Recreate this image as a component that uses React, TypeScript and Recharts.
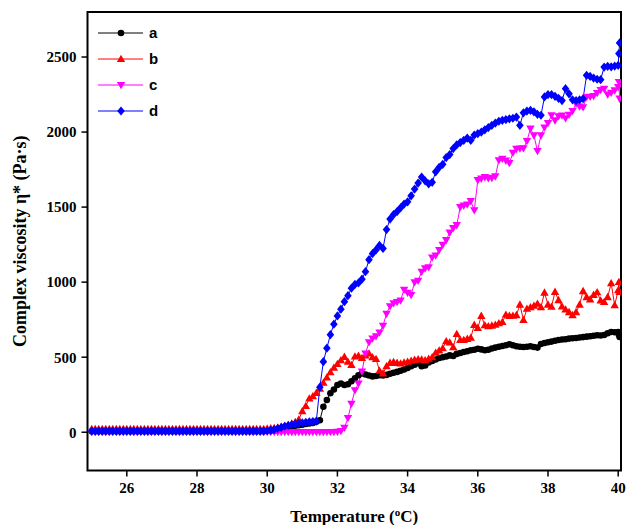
import React from 'react';
import { LineChart, Line, XAxis, YAxis, Legend, ReferenceArea, Label } from 'recharts';

const temps = [
  25.0, 25.1, 25.2, 25.3, 25.4, 25.5, 25.6, 25.7, 25.8, 25.9,
  26.0, 26.1, 26.2, 26.3, 26.4, 26.5, 26.6, 26.7, 26.8, 26.9,
  27.0, 27.1, 27.2, 27.3, 27.4, 27.5, 27.6, 27.7, 27.8, 27.9,
  28.0, 28.1, 28.2, 28.3, 28.4, 28.5, 28.6, 28.7, 28.8, 28.9,
  29.0, 29.1, 29.2, 29.3, 29.4, 29.5, 29.6, 29.7, 29.8, 29.9,
  30.0, 30.1, 30.2, 30.3, 30.4, 30.5, 30.6, 30.7, 30.8, 30.9,
  31.0, 31.1, 31.2, 31.3, 31.4, 31.5, 31.6, 31.7, 31.8, 31.9,
  32.0, 32.1, 32.2, 32.3, 32.4, 32.5, 32.6, 32.7, 32.8, 32.9,
  33.0, 33.1, 33.2, 33.3, 33.4, 33.5, 33.6, 33.7, 33.8, 33.9,
  34.0, 34.1, 34.2, 34.3, 34.4, 34.5, 34.6, 34.7, 34.8, 34.9,
  35.0, 35.1, 35.2, 35.3, 35.4, 35.5, 35.6, 35.7, 35.8, 35.9,
  36.0, 36.1, 36.2, 36.3, 36.4, 36.5, 36.6, 36.7, 36.8, 36.9,
  37.0, 37.1, 37.2, 37.3, 37.4, 37.5, 37.6, 37.7, 37.8, 37.9,
  38.0, 38.1, 38.2, 38.3, 38.4, 38.5, 38.6, 38.7, 38.8, 38.9,
  39.0, 39.1, 39.2, 39.3, 39.4, 39.5, 39.6, 39.7, 39.8, 39.9,
  40.0, 40.02, 40.04,
];

const seriesA = [
  6, 6, 6, 6, 6, 6, 6, 6, 6, 6,
  6, 6, 6, 6, 6, 6, 6, 6, 6, 6,
  6, 6, 6, 6, 6, 6, 6, 6, 6, 6,
  6, 6, 6, 6, 6, 6, 6, 6, 6, 6,
  6, 6, 6, 6, 6, 6, 6, 7, 7, 7,
  8, 10, 12, 15, 20, 28, 35, 40, 44, 47,
  50, 55, 58, 62, 70, 80, 170, 215, 260, 285,
  315, 325, 315, 320, 340, 360, 380, 392, 385, 378,
  372, 375, 380, 378, 382, 390, 396, 402, 410, 418,
  428, 440, 450, 462, 440, 445, 465, 475, 485, 495,
  500, 505, 512, 508, 522, 528, 535, 540, 546, 550,
  556, 552, 546, 550, 558, 564, 570, 575, 580, 586,
  580, 573, 570, 568, 570, 573, 568, 564, 588, 595,
  600, 604, 610, 615, 618, 620, 624, 626, 628, 631,
  634, 637, 640, 643, 646, 645, 648, 660, 668, 666,
  668, 650, 635,
];

const seriesB = [
  22, 22, 22, 22, 22, 22, 22, 22, 22, 22,
  22, 22, 22, 22, 22, 22, 22, 22, 22, 22,
  22, 22, 22, 22, 22, 22, 22, 22, 22, 22,
  22, 22, 22, 22, 22, 22, 22, 22, 22, 22,
  22, 22, 22, 22, 22, 22, 22, 22, 22, 22,
  24, 26, 28, 32, 36, 42, 50, 58, 68, 85,
  140, 175, 225, 240, 262, 290, 330, 365, 400, 430,
  455, 480, 502, 470, 448, 505, 510, 495, 512, 524,
  500, 488, 410, 392, 440, 462, 468, 462, 458, 465,
  470, 476, 482, 486, 484, 480, 490, 500, 530, 545,
  560, 606, 598, 566, 655, 615, 614, 622, 630, 715,
  695, 775, 712, 706, 710, 716, 726, 734, 782, 775,
  776, 780, 850, 748, 822, 832, 842, 856, 832, 930,
  850, 836, 935, 880, 838, 818, 800, 780, 800, 850,
  940, 900, 885, 915, 932, 878, 868, 900, 992, 846,
  946, 1001, 935,
];

const seriesC = [
  2, 2, 2, 2, 2, 2, 2, 2, 2, 2,
  2, 2, 2, 2, 2, 2, 2, 2, 2, 2,
  2, 2, 2, 2, 2, 2, 2, 2, 2, 2,
  2, 2, 2, 2, 2, 2, 2, 2, 2, 2,
  2, 2, 2, 2, 2, 2, 2, 2, 2, 2,
  2, 2, 2, 2, 2, 2, 2, 2, 2, 2,
  2, 2, 2, 2, 2, 2, 2, 2, 2, 2,
  3, 8, 30, 95, 190, 280, 325, 405, 525, 600,
  625, 640, 665, 710, 790, 840, 860, 868, 878, 950,
  930, 915, 1000, 1010, 1070, 1092, 1100, 1165, 1178, 1215,
  1250, 1280, 1330, 1360, 1380, 1500, 1510, 1518, 1540, 1479,
  1680, 1690, 1700, 1692, 1695, 1705, 1812, 1822, 1810, 1794,
  1862, 1888, 1890, 1892, 1940, 2023, 1978, 1874, 1978, 2030,
  2060, 2112, 2078, 2105, 2110, 2092, 2115, 2140, 2189, 2170,
  2165, 2234, 2236, 2240, 2260, 2280, 2289, 2250, 2262, 2278,
  2300, 2334, 2223,
];

const seriesD = [
  8, 8, 8, 8, 8, 8, 8, 8, 8, 8,
  8, 8, 8, 8, 8, 8, 8, 8, 8, 8,
  8, 8, 8, 8, 8, 8, 8, 8, 8, 8,
  8, 8, 8, 8, 8, 8, 8, 8, 8, 8,
  8, 8, 8, 8, 8, 8, 8, 8, 8, 8,
  10, 12, 18, 25, 32, 40, 45, 50, 55, 60,
  63, 66, 69, 71, 74, 300, 470, 560, 650, 720,
  775, 820, 870, 910, 960, 985, 995, 1020, 1070, 1150,
  1190, 1215, 1245, 1225, 1350, 1420, 1450, 1470, 1495, 1520,
  1535, 1575, 1620, 1660, 1700, 1675, 1655, 1665, 1735, 1765,
  1785, 1830, 1850, 1890, 1915, 1930, 1945, 1960, 1945, 1980,
  1990, 2000, 2015, 2030, 2045, 2060, 2072, 2078, 2083, 2088,
  2092, 2100, 2045, 2128, 2140, 2145, 2135, 2118, 2112, 2234,
  2250, 2250, 2238, 2225, 2210, 2289, 2255, 2215, 2210, 2215,
  2222, 2378, 2371, 2360, 2352, 2349, 2433, 2438, 2435, 2440,
  2445, 2523, 2594,
];

const xTicks = [26, 28, 30, 32, 34, 36, 38, 40];
const yTicks = [0, 500, 1000, 1500, 2000, 2500];
const seriesNames = ['a', 'b', 'c', 'd'];

const X_DOMAIN: [number, number] = [24.88, 40.08];
const Y_DOMAIN: [number, number] = [-255, 2800];

const data = temps.map((t, i) => ({
  t,
  a: seriesA[i],
  b: seriesB[i],
  c: seriesC[i],
  d: seriesD[i],
}));

const STYLE: Record<string, { color: string; shape: string }> = {
  a: { color: '#000000', shape: 'circle' },
  b: { color: '#ff0000', shape: 'up' },
  c: { color: '#ff00ff', shape: 'down' },
  d: { color: '#0000ff', shape: 'diamond' },
};

function markerEl(shape: string, cx: number, cy: number, color: string, key?: any) {
  if (cx == null || cy == null || isNaN(cx) || isNaN(cy)) return <g key={key} />;
  if (shape === 'circle') return <circle key={key} cx={cx} cy={cy} r={3.3} fill={color} />;
  if (shape === 'up')
    return <path key={key} d={`M${cx},${cy - 4.3}L${cx + 4.2},${cy + 3}L${cx - 4.2},${cy + 3}Z`} fill={color} />;
  if (shape === 'down')
    return <path key={key} d={`M${cx},${cy + 4.3}L${cx + 4.2},${cy - 3}L${cx - 4.2},${cy - 3}Z`} fill={color} />;
  return <path key={key} d={`M${cx},${cy - 4.6}L${cx + 3.8},${cy}L${cx},${cy + 4.6}L${cx - 3.8},${cy}Z`} fill={color} />;
}

const FONT_SERIF = '"Liberation Serif", "Times New Roman", serif';
const FONT_SANS = '"Liberation Sans", Arial, sans-serif';

const XTick = (props: any) => {
  const { x, y, payload } = props;
  return (
    <text x={x} y={y + 4} dy="0.71em" textAnchor="middle" fontFamily={FONT_SERIF} fontWeight="bold" fontSize={15} fill="#000">
      {payload.value}
    </text>
  );
};

const YTick = (props: any) => {
  const { x, y, payload } = props;
  return (
    <text x={x - 3} y={y} dy="0.355em" textAnchor="end" fontFamily={FONT_SERIF} fontWeight="bold" fontSize={15} fill="#000">
      {payload.value}
    </text>
  );
};

const renderLegend = (props: any) => {
  const payload = props.payload || [];
  return (
    <svg width={70} height={110} style={{ display: 'block' }}>
      {payload.map((p: any, i: number) => {
        const key = p.dataKey as string;
        const st = STYLE[key];
        const y = 8 + i * 26;
        return (
          <g key={key}>
            <line x1={0} x2={45} y1={y} y2={y} stroke={st.color} strokeWidth={1} />
            {markerEl(st.shape, 23, y, st.color)}
            <text x={51} y={y + 5} fontFamily={FONT_SANS} fontWeight="bold" fontSize={15} fill="#000">
              {p.value}
            </text>
          </g>
        );
      })}
    </svg>
  );
};

export default function App() {
  return (
    <div style={{ position: 'absolute', left: 0, top: 0, width: 627, height: 525, background: '#fff' }}>
      <LineChart
        width={627}
        height={525}
        data={data}
        margin={{ top: 12, right: 6, left: 0, bottom: 0 }}
      >
        <XAxis
          dataKey="t"
          type="number"
          domain={X_DOMAIN}
          ticks={xTicks}
          allowDataOverflow
          height={54.5}
          axisLine={false}
          tickLine={{ stroke: '#000', strokeWidth: 1.5 }}
          tickSize={6}
          tick={<XTick />}
        >
          <Label
            content={(p: any) => {
              const vb = p.viewBox || {};
              const cx = vb.x + vb.width / 2;
              return (
                <text x={cx} y={522} textAnchor="middle" fontFamily={FONT_SERIF} fontWeight="bold" fontSize={17} fill="#000">
                  Temperature (<tspan dy={-6} fontSize={11}>o</tspan><tspan dy={6}>C)</tspan>
                </text>
              );
            }}
          />
        </XAxis>
        <YAxis
          type="number"
          domain={Y_DOMAIN}
          ticks={yTicks}
          allowDataOverflow
          width={87.5}
          axisLine={false}
          tickLine={{ stroke: '#000', strokeWidth: 1.5 }}
          tickSize={6}
          tick={<YTick />}
        >
          <Label
            content={(p: any) => {
              const vb = p.viewBox || {};
              const cy = vb.y + vb.height / 2;
              return (
                <text
                  x={20}
                  y={cy}
                  transform={`rotate(-90, 20, ${cy})`}
                  textAnchor="middle"
                  dominantBaseline="central"
                  fontFamily={FONT_SERIF}
                  fontWeight="bold"
                  fontSize={18}
                  fill="#000"
                >
                  Complex viscosity η* (Pa·s)
                </text>
              );
            }}
          />
        </YAxis>
        {seriesNames.map((k) => (
          <Line
            key={k}
            dataKey={k}
            name={k}
            type="linear"
            stroke={STYLE[k].color}
            strokeWidth={1}
            isAnimationActive={false}
            dot={(dp: any) => markerEl(STYLE[k].shape, dp.cx, dp.cy, STYLE[k].color, `${k}-${dp.index}`)}
            activeDot={false}
          />
        ))}
        <ReferenceArea
          x1={X_DOMAIN[0]}
          x2={X_DOMAIN[1]}
          y1={Y_DOMAIN[0]}
          y2={Y_DOMAIN[1]}
          fill="none"
          fillOpacity={0}
          stroke="#000"
          strokeWidth={2}
          ifOverflow="visible"
        />
        <Legend
          layout="horizontal"
          verticalAlign="middle"
          align="center"
          content={renderLegend}
          wrapperStyle={{ position: 'absolute', left: 98, top: 25, width: 70, height: 110 }}
        />
      </LineChart>
    </div>
  );
}
